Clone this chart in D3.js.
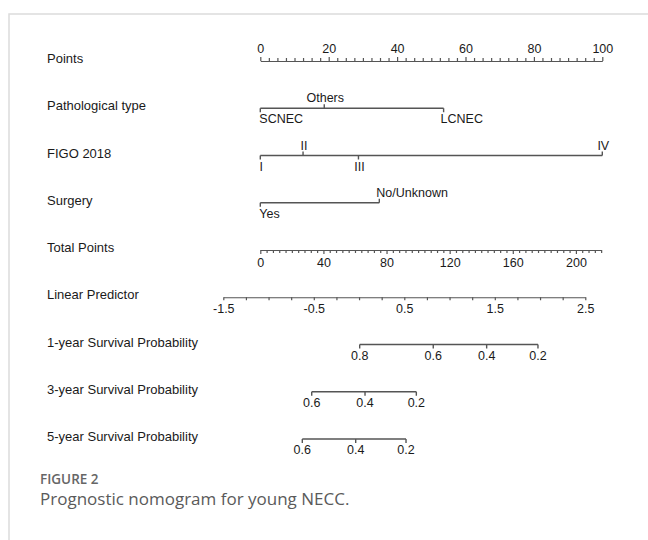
<!DOCTYPE html>
<html>
<head>
<meta charset="utf-8">
<script src="https://cdn.jsdelivr.net/npm/d3@7/dist/d3.min.js"></script>
<style>
  html, body { margin: 0; padding: 0; background: #fff; }
  svg { display: block; }
</style>
</head>
<body>
<svg id="chart" width="648" height="540"></svg>
<script>
// ---- Nomogram data ----
const rowNames = [
  "Points", "Pathological type", "FIGO 2018", "Surgery", "Total Points",
  "Linear Predictor", "1-year Survival Probability",
  "3-year Survival Probability", "5-year Survival Probability"
];

// Points axis
const pointsTicks = [0, 20, 40, 60, 80, 100];

// Predictor levels and the points each level contributes
const pathLevels = ["SCNEC", "Others", "LCNEC"];
const pathPoints = [0, 18.7, 53.6];

const figoLevels = ["I", "II", "III", "IV"];
const figoPoints = [0, 12.5, 28.7, 100];

const surgeryLevels = ["Yes", "No/Unknown"];
const surgeryPoints = [0, 34.8];

// Total points axis
const totalTicks = [0, 40, 80, 120, 160, 200];
const totalMax = 216;

// Linear predictor axis
const lpTicks = [-1.5, -0.5, 0.5, 1.5, 2.5];
const lpMin = -1.5, lpMax = 2.5;

// Survival probabilities and the linear predictor at which each sits
const surv1Labels = [0.8, 0.6, 0.4, 0.2];
const surv1LP = [0.007, 0.820, 1.410, 1.977];

const surv3Labels = [0.6, 0.4, 0.2];
const surv3LP = [-0.523, 0.066, 0.633];

const surv5Labels = [0.6, 0.4, 0.2];
const surv5LP = [-0.627, -0.037, 0.519];

// ---- Drawing ----
const svg = d3.select("#chart");
const FONT = "'Liberation Sans', Arial, sans-serif";
const LINE = "#555";
const TEXT = "#1a1a1a";

// page frame
svg.append("path")
  .attr("d", "M9,540 L9,14 L648,14")
  .attr("fill", "none").attr("stroke", "#dcdcdc").attr("stroke-width", 1.5);

const x = d3.scaleLinear().domain([0, 100]).range([260.3, 602.3]);
const totalPx = 1.578; // pixels per total point
const xTotal = d3.scaleLinear().domain([0, totalMax]).range([260.3, 260.3 + totalMax * totalPx]);
const xLP = d3.scaleLinear().domain([lpMin, lpMax]).range([223.3, 585.3]);
const y = d3.scalePoint().domain(rowNames).range([61, 439]);

const fmt1 = d => (+d).toFixed(1);

// row titles
svg.append("g").selectAll("text").data(rowNames).join("text")
  .attr("x", 47).attr("y", d => y(d) + 2)
  .attr("font-family", FONT).attr("font-size", 13).attr("fill", TEXT)
  .text(d => d);

function styleAxis(g) {
  g.select(".domain").attr("stroke", LINE).attr("stroke-width", 1.2);
  g.selectAll(".tick line").attr("stroke", LINE).attr("stroke-width", 1.2);
  g.selectAll(".tick text").attr("font-family", FONT).attr("font-size", 12.5).attr("fill", TEXT);
}

// Points axis: ticks up, labels above
{
  const minor = d3.range(0, 100.01, 2.5);
  const g = svg.append("g").attr("transform", `translate(0,${y("Points")})`);
  g.call(d3.axisTop(x).tickValues(minor).tickSize(3).tickSizeOuter(0)
    .tickFormat(d => pointsTicks.includes(d) ? d : ""));
  g.selectAll(".tick").filter(d => pointsTicks.includes(d)).select("line").attr("y2", -4);
  g.selectAll(".tick text").attr("dy", -2);
  styleAxis(g);
}

// Categorical predictors: ticks and labels alternate below / above
function drawFactor(row, levels, pts) {
  const g = svg.append("g").attr("transform", `translate(0,${y(row)})`);
  const order = d3.range(levels.length).sort((a, b) => pts[a] - pts[b]);
  const extent = d3.extent(pts);
  g.append("line")
    .attr("x1", x(extent[0])).attr("x2", x(extent[1]))
    .attr("stroke", LINE).attr("stroke-width", 1.4);
  const startAligned = new Set(["SCNEC", "LCNEC", "Yes", "No/Unknown"]);
  order.forEach((idx, k) => {
    const below = k % 2 === 0;
    const px = x(pts[idx]);
    g.append("line")
      .attr("x1", px).attr("x2", px)
      .attr("y1", 0).attr("y2", below ? 4 : -4)
      .attr("stroke", LINE).attr("stroke-width", 1.4);
    const isStart = startAligned.has(levels[idx]);
    g.append("text")
      .attr("x", px + (isStart && pts[idx] > 0 ? -3 : (isStart ? -1 : 1)))
      .attr("y", below ? 15 : -6)
      .attr("text-anchor", isStart ? "start" : "middle")
      .attr("font-family", FONT).attr("font-size", 12.5).attr("fill", TEXT)
      .text(levels[idx]);
  });
}
drawFactor("Pathological type", pathLevels, pathPoints);
drawFactor("FIGO 2018", figoLevels, figoPoints);
drawFactor("Surgery", surgeryLevels, surgeryPoints);

// Total points axis: ticks down, labels below
{
  const minor = d3.range(0, totalMax + 0.01, 4);
  const g = svg.append("g").attr("transform", `translate(0,${y("Total Points")})`);
  g.call(d3.axisBottom(xTotal).tickValues(minor).tickSize(3).tickSizeOuter(0)
    .tickFormat(d => totalTicks.includes(d) ? d : ""));
  g.selectAll(".tick").filter(d => totalTicks.includes(d)).select("line").attr("y2", 4);
  g.selectAll(".tick text").attr("dy", "0.9em");
  styleAxis(g);
}

// Linear predictor axis
{
  const minor = d3.range(lpMin, lpMax + 0.001, 0.25);
  const g = svg.append("g").attr("transform", `translate(0,${y("Linear Predictor")})`);
  g.call(d3.axisBottom(xLP).tickValues(minor).tickSize(3).tickSizeOuter(0)
    .tickFormat(d => lpTicks.some(t => Math.abs(t - d) < 1e-9) ? fmt1(d) : ""));
  g.selectAll(".tick text").attr("dy", "0.8em");
  styleAxis(g);
}

// Survival probability axes
function drawSurv(row, labels, lps) {
  const g = svg.append("g").attr("transform", `translate(0,${y(row)})`);
  const ext = d3.extent(lps);
  g.append("line").attr("x1", xLP(ext[0])).attr("x2", xLP(ext[1]))
    .attr("stroke", LINE).attr("stroke-width", 1.4);
  g.selectAll("line.t").data(lps).join("line").attr("class", "t")
    .attr("x1", d => xLP(d)).attr("x2", d => xLP(d))
    .attr("y1", 0).attr("y2", 4)
    .attr("stroke", LINE).attr("stroke-width", 1.4);
  g.selectAll("text").data(labels).join("text")
    .attr("x", (d, i) => xLP(lps[i])).attr("y", 15)
    .attr("text-anchor", "middle")
    .attr("font-family", FONT).attr("font-size", 12.5).attr("fill", TEXT)
    .text(fmt1);
}
drawSurv("1-year Survival Probability", surv1Labels, surv1LP);
drawSurv("3-year Survival Probability", surv3Labels, surv3LP);
drawSurv("5-year Survival Probability", surv5Labels, surv5LP);

// caption
svg.append("text").attr("x", 40).attr("y", 484)
  .attr("font-family", "'Open Sans', sans-serif").attr("font-weight", 600)
  .attr("font-size", 13.5).attr("fill", "#666").text("FIGURE 2");
svg.append("text").attr("x", 40).attr("y", 505)
  .attr("font-family", "'Open Sans', sans-serif").attr("font-weight", 400)
  .attr("font-size", 17).attr("fill", "#5a5a5a").text("Prognostic nomogram for young NECC.");
</script>
</body>
</html>
